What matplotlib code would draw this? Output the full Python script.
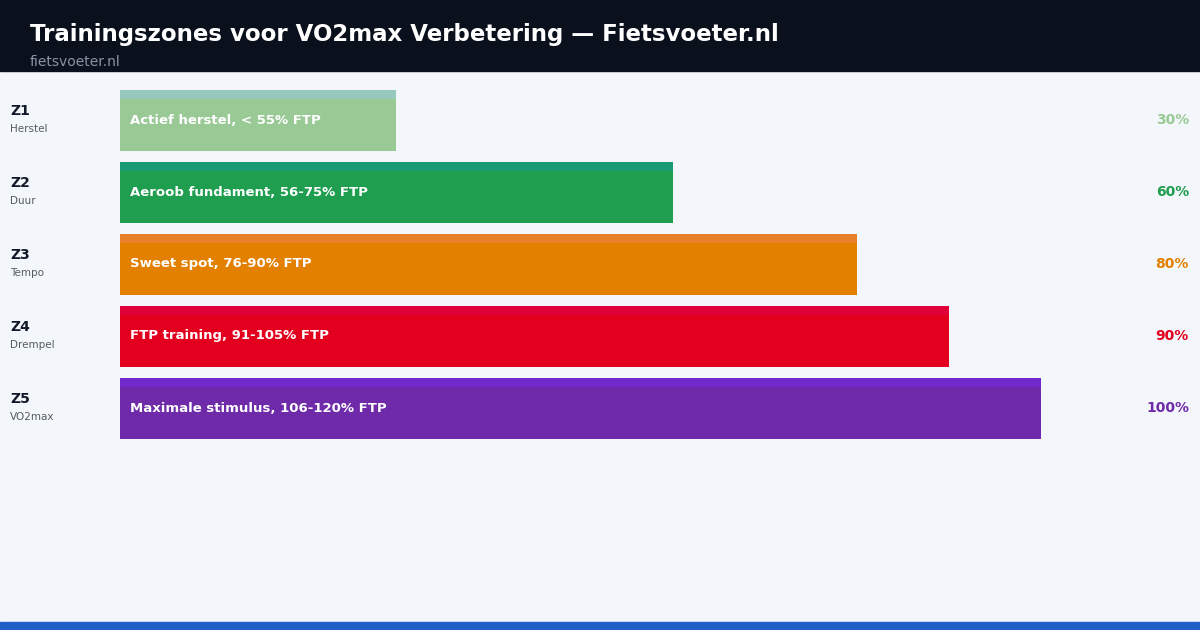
import matplotlib.pyplot as plt
import matplotlib.transforms as mtransforms
from matplotlib.patches import Rectangle

# chart data
zones = ["Z1", "Z2", "Z3", "Z4", "Z5"]
zone_names = ["Herstel", "Duur", "Tempo", "Drempel", "VO2max"]
descriptions = ["Actief herstel, < 55% FTP", "Aeroob fundament, 56-75% FTP",
                "Sweet spot, 76-90% FTP", "FTP training, 91-105% FTP",
                "Maximale stimulus, 106-120% FTP"]
values = [30, 60, 80, 90, 100]
colors = ["#99c994", "#1e9e4e", "#e38000", "#e3001f", "#6e2aa8"]
top_colors = ["#96c8bb", "#1a9a74", "#e8802a", "#e0003a", "#7128cc"]

W, H = 1200, 630
fig = plt.figure(figsize=(12, 6.3), dpi=100)
fig.patch.set_facecolor("#f3f6fa")

# header band and bottom strip
fig.patches.append(Rectangle((0, 1 - 71 / H), 1, 71 / H, transform=fig.transFigure,
                             color="#0a101c", zorder=0))
fig.patches.append(Rectangle((0, 0), 1, 8 / H, transform=fig.transFigure,
                             color="#1f5fc8", zorder=0))
fig.text(30 / W, 1 - 34 / H, "Trainingszones voor VO2max Verbetering — Fietsvoeter.nl",
         color="white", fontsize=16.5, fontweight="bold", va="center")
fig.text(30 / W, 1 - 62 / H, "fietsvoeter.nl", color="#8a94a6", fontsize=10, va="center")

# bar axes: x 0..100 spans pixels 120..1041, rows 72px apart
ax = fig.add_axes([120 / W, 1 - 444 / H, 921 / W, 360 / H])
ax.set_xlim(0, 100)
ax.set_ylim(len(zones) - 0.5, -0.5)
ax.axis("off")

bar_h = 61 / 72
strip_h = 9 / 72
for i, (z, name, desc, v) in enumerate(zip(zones, zone_names, descriptions, values)):
    ax.barh(i, v, height=bar_h, color=colors[i], left=0)
    ax.barh(i - bar_h / 2 + strip_h / 2, v, height=strip_h, color=top_colors[i], left=0)
    offs = mtransforms.offset_copy(ax.transData, fig=fig, x=10, y=0, units="dots")
    ax.text(0, i, desc, transform=offs, color="white", fontsize=9.5,
            fontweight="bold", va="center")
    ytr = mtransforms.blended_transform_factory(fig.transFigure, ax.transData)
    ax.text(10 / W, i - 0.03, z, transform=ytr, fontsize=10, fontweight="bold",
            color="#111827", va="bottom")
    ax.text(10 / W, i + 0.06, name, transform=ytr, fontsize=7.5, color="#555c66", va="top")
    ax.text(1189 / W, i, f"{v}%", transform=ytr, fontsize=10, fontweight="bold",
            color=colors[i], ha="right", va="center")

fig.savefig("out.png", dpi=100, facecolor=fig.get_facecolor())
